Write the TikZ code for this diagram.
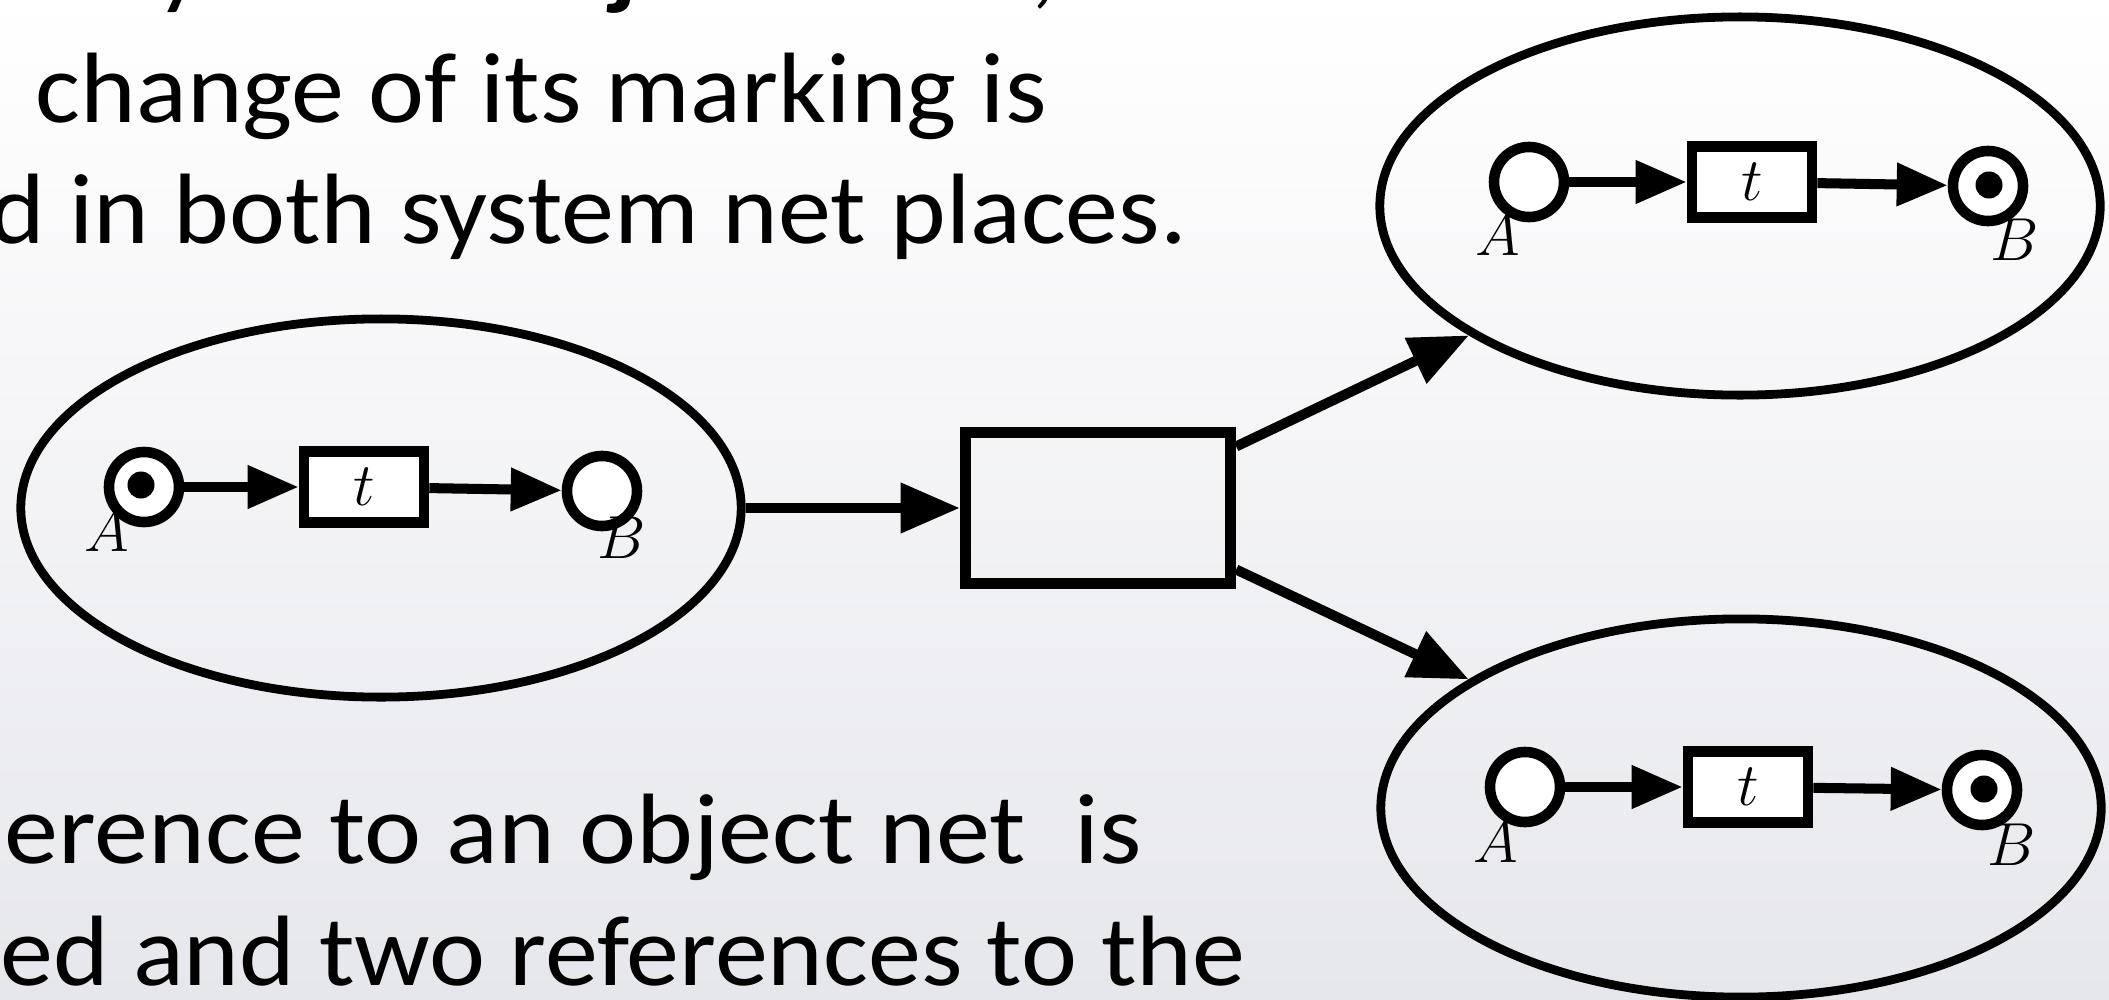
\documentclass[tikz,border=0pt]{standalone}
\usepackage{fontspec}
\setmainfont{Carlito}
\newfontfamily\bodyfont[FakeStretch=1.06]{Carlito}
\usetikzlibrary{arrows.meta,shapes.geometric}
\definecolor{bgbottom}{RGB}{230,231,236}
\begin{document}
\begin{tikzpicture}[x=0.01cm,y=-0.01cm,
  net/.style={ellipse,draw,line width=2.5pt,minimum width=7.2cm,minimum height=3.78cm,inner sep=0pt},
  plc/.style={circle,draw,fill=white,line width=3pt,minimum size=0.70cm,inner sep=0pt},
  trans/.style={rectangle,draw,fill=white,line width=3pt,minimum width=1.2cm,minimum height=0.71cm,inner sep=0pt,font=\fontsize{18pt}{21pt}\selectfont},
  sysbox/.style={rectangle,draw,line width=3.2pt,minimum width=2.65cm,minimum height=1.51cm,inner sep=0pt},
  tok/.style={circle,fill=black,minimum size=0.27cm,inner sep=0pt},
  lab/.style={inner sep=0pt,font=\fontsize{17pt}{20pt}\selectfont},
  arc/.style={line width=2.85pt,-{Triangle[length=14.5pt,width=11.7pt]}},
  bigarc/.style={line width=2.85pt,-{Triangle[length=16.8pt,width=13.7pt]}},
  body/.style={inner sep=0pt,font=\bodyfont\fontsize{28.45pt}{34pt}\selectfont}
]
% page and backdrop
\useasboundingbox (0,0) rectangle (2109,1000);
\clip (0,0) rectangle (2109,1000);
\fill[top color=white,bottom color=bgbottom] (0,0) rectangle (2109,1000);

% running text
\node[body,anchor=base west] (f1) at (156,-4) {y};
\node[body,anchor=base west] (f2) at (610,-4) {\bfseries j};
\node[body,anchor=base west] (f3) at (1030,-4) {,};
\node[body,anchor=base west] (l2) at (35,122) {change of its marking is};
\node[body,anchor=base east] (l3) at (1188,243) {d in both system net places.};
\node[body,anchor=base west] (l4) at (4,863) {\scalebox{1.02}[1]{\llap{f\kern2pt}erence to an object net\ \ is}};
\node[body,anchor=base west] (l5) at (0,985) {ed and two references to the};

% object nets
\node[net] (N1) at (381,508) {};
\node[net] (N2) at (1740,206) {};
\node[net] (N3) at (1741,808) {};

% system net transition
\node[sysbox] (S) at (1098,508) {};

% net inside N1
\node[plc] (A1) at (144,487) {};
\node[trans] (T1) at (364,487) {$t$};
\node[plc] (B1) at (602,491) {};
\node[tok] (A1m) at ([shift={(-3,-2)}]A1) {};
\node[lab] (A1l) at ([shift={(-37,44)}]A1) {$A$};
\node[lab] (B1l) at ([shift={(20,47)}]B1) {$B$};
\draw[arc] (A1) -- (T1);
\draw[arc] (T1) -- (B1);

% net inside N2
\node[plc] (A2) at (1529,182) {};
\node[trans] (T2) at (1752,182) {$t$};
\node[plc] (B2) at (1988,186) {};
\node[tok] (B2m) at ([shift={(1,-1)}]B2) {};
\node[lab] (A2l) at ([shift={(-31,53)}]A2) {$A$};
\node[lab] (B2l) at ([shift={(27,54)}]B2) {$B$};
\draw[arc] (A2) -- (T2);
\draw[arc] (T2) -- (B2);

% net inside N3
\node[plc] (A3) at (1525,787) {};
\node[trans] (T3) at (1748,787) {$t$};
\node[plc] (B3) at (1982,790) {};
\node[tok] (B3m) at ([shift={(2,-1)}]B3) {};
\node[lab] (A3l) at ([shift={(-29,55)}]A3) {$A$};
\node[lab] (B3l) at ([shift={(30,55)}]B3) {$B$};
\draw[arc] (A3) -- (T3);
\draw[arc] (T3) -- (B3);

% system net arcs
\draw[bigarc] (N1) -- (S);
\draw[bigarc] (S.24.5) -- (N2);
\draw[bigarc] (S.-24.5) -- (N3);
\end{tikzpicture}
\end{document}
